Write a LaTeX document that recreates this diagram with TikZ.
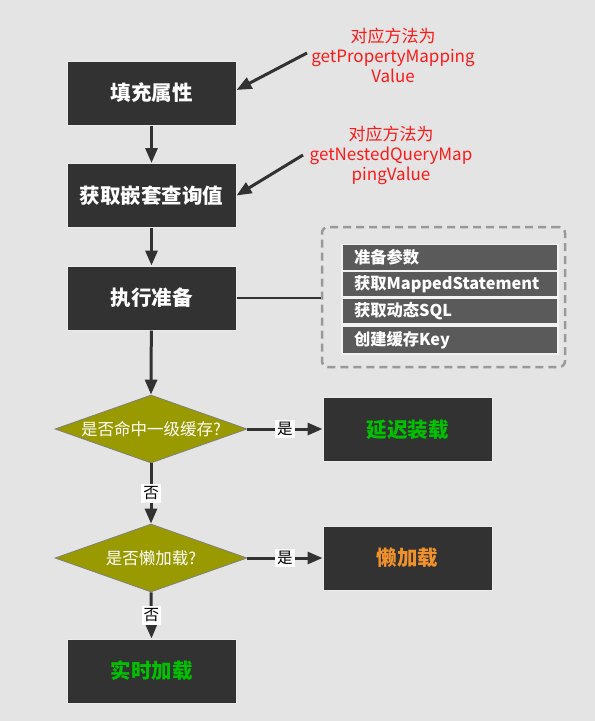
\documentclass[tikz,border=0pt]{standalone}
\usepackage{fontspec}
\setmainfont{Noto Sans CJK SC}
\usetikzlibrary{arrows.meta,shapes.geometric,calc}
\definecolor{bg}{HTML}{E4E4E4}
\definecolor{boxgray}{HTML}{323232}
\definecolor{rowgray}{HTML}{5A5A5A}
\definecolor{olive}{HTML}{999900}
\definecolor{annred}{HTML}{FF1A1A}
\definecolor{okgreen}{HTML}{00C000}
\definecolor{lazyorange}{HTML}{F0922A}
\definecolor{dashgray}{HTML}{999999}
\begin{document}
\begin{tikzpicture}[x=1pt,y=-1pt,
  procbox/.style={draw=white!92!black, line width=1pt, fill=boxgray, minimum width=169pt, minimum height=64pt, inner sep=0pt, font=\fontsize{20.5}{24}\selectfont\bfseries, text=white},
  decbox/.style={shape=diamond, draw=gray, line width=0.8pt, fill=olive, minimum width=192pt, minimum height=68pt, inner sep=0pt},
  dectext/.style={font=\fontsize{16.5}{19}\selectfont, text=white},
  rowbox/.style={draw=white!95!black, line width=1.2pt, fill=rowgray, minimum height=26pt, text width=192pt, inner xsep=12pt, inner ysep=0pt, align=left, font=\fontsize{16.3}{19}\selectfont\bfseries, text=white},
  flow/.style={draw=boxgray, line width=3pt, -{Triangle[length=15pt,width=12pt]}},
  annot/.style={draw=boxgray, line width=3pt, -{Triangle[length=15pt,width=12pt]}},
  anntext/.style={align=center, text=annred, font=\fontsize{17}{20}\selectfont},
  yn/.style={fill=white, text=black, inner xsep=2pt, inner ysep=2.5pt, font=\fontsize{15.5}{17}\selectfont}
]
\fill[bg] (0,0) rectangle (595,721);
\useasboundingbox (0,0) rectangle (595,721);

% main boxes
\node[procbox] (b1) at (151.5,93) {填充属性};
\node[procbox] (b2) at (151.5,195.5) {获取嵌套查询值};
\node[procbox] (b3) at (151.5,298) {执行准备};
\node[decbox] (d1) at (151,429) {};
\node[dectext] at (d1) {是否命中一级缓存?};
\node[procbox, text=okgreen] (delay) at (407.5,429.5) {延迟装载};
\node[decbox] (d2) at (151,558) {};
\node[dectext] at (d2) {是否懒加载?};
\node[procbox, text=lazyorange] (lazy) at (407.5,558) {懒加载};
\node[procbox, text=okgreen] (real) at (151.5,671) {实时加载};

% group with steps
\node[draw=dashgray, line width=2.5pt, dash pattern=on 8pt off 5pt, rounded corners=6pt, minimum width=243pt, minimum height=140pt, inner sep=0pt] (grp) at (443.5,297) {};
\node[rowbox] (r1) at (450,257.5) {准备参数};
\node[rowbox] (r2) at (450,284) {获取MappedStatement};
\node[rowbox] (r3) at (450,311) {获取动态SQL};
\node[rowbox, minimum height=28pt] (r4) at (450,340) {创建缓存Key};

% annotations
\node[anntext] (t1) at (393,55) {对应方法为\\getPropertyMapping\\Value};
\node[anntext] (t2) at (391,155) {对应方法为\\getNestedQueryMap\\pingValue};
\coordinate (a1) at (307,53);
\coordinate (a2) at (303,155);
\draw[annot] (a1) -- ($(b1.east)+(0,-3)$);
\draw[annot] (a2) -- (b2.east);

% connectors
\draw[flow] (b1) -- (b2);
\draw[flow] (b2) -- (b3);
\draw[flow] (b3) -- (d1.north);
\draw[draw=boxgray, line width=1.2pt] (b3.east) -- (grp.west |- b3.east);
\draw[flow] (d1.east) -- node[yn] {是} (delay.west |- d1.east);
\draw[flow] (d1.south) -- node[yn] {否} (d2.north);
\draw[flow] (d2.east) -- node[yn] {是} (lazy.west |- d2.east);
\draw[flow] (d2.south) -- node[yn] {否} (real.north);
\end{tikzpicture}
\end{document}
